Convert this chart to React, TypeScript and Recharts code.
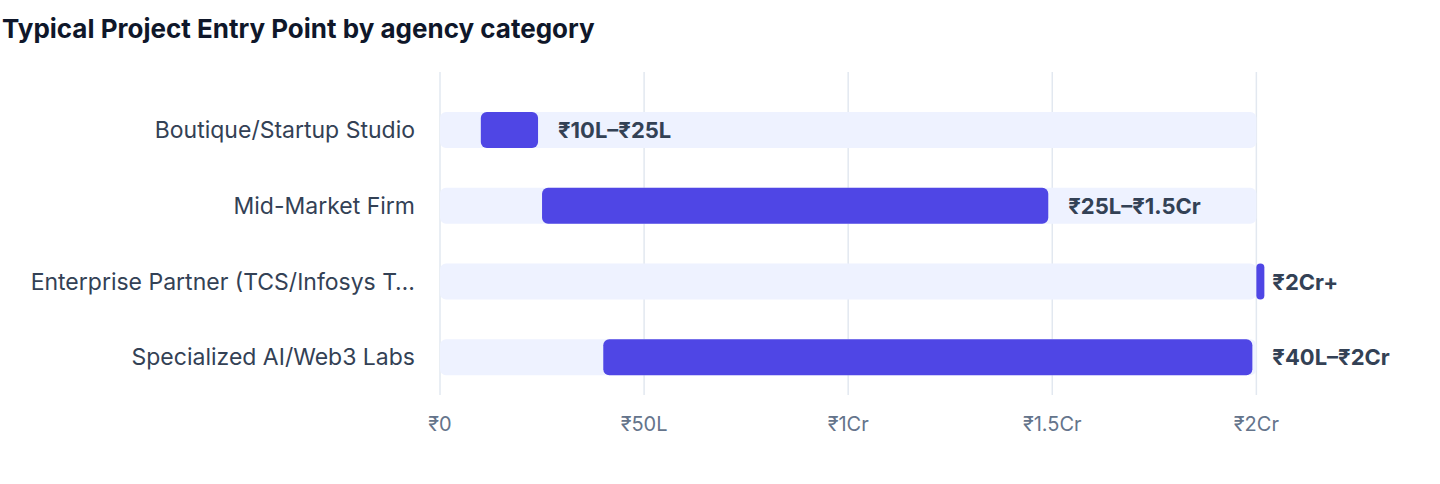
import React from 'react';
import { BarChart, Bar, XAxis, YAxis, CartesianGrid, LabelList, Rectangle } from 'recharts';

// values in lakh (₹1Cr = 100L)
const categories = [
  'Boutique/Startup Studio',
  'Mid-Market Firm',
  'Enterprise Partner (TCS/Infosys Tier)',
  'Specialized AI/Web3 Labs'
];
const lowValues = [10, 25, 200, 40];
const highValues = [25, 150, 200, 200];
const rangeLabels = ['₹10L–₹25L', '₹25L–₹1.5Cr', '₹2Cr+', '₹40L–₹2Cr'];
const trackMax = 200;
const xTicks = [0, 50, 100, 150, 200];
const xTickLabels = ['₹0', '₹50L', '₹1Cr', '₹1.5Cr', '₹2Cr'];

const data = categories.map((name, i) => ({
  name,
  track: [0, trackMax],
  range: [lowValues[i], highValues[i]],
  label: rangeLabels[i]
}));

const FONT = 'Inter, "Noto Sans", sans-serif';

const RangeShape = (props: any) => {
  const { x, y, width, height, fill } = props;
  const w = Math.max(width - 4, 8);
  return <Rectangle x={x} y={y} width={w} height={height} fill={fill} radius={Math.min(6, w / 2)} />;
};

const RangeLabel = (props: any) => {
  const { x, y, width, height, value } = props;
  return (
    <text
      x={x + width + 16}
      y={y + height / 2}
      dominantBaseline="central"
      fill="#334155"
      fontSize={22}
      fontWeight={700}
      fontFamily={FONT}
    >
      {value}
    </text>
  );
};

const truncate = (v: string) => (v.length > 33 ? v.slice(0, 33) + '…' : v);

export default function App() {
  return (
    <div style={{ position: 'absolute', left: 0, top: 0, width: 1440, height: 484, fontFamily: FONT, background: '#fff' }}>
      <div
        style={{
          position: 'absolute',
          left: 2,
          top: 14,
          fontSize: 26,
          lineHeight: '30px',
          fontWeight: 700,
          color: '#0F172A'
        }}
      >
        Typical Project Entry Point by agency category
      </div>
      <BarChart
        width={1440}
        height={484}
        data={data}
        layout="vertical"
        margin={{ top: 72, right: 102, left: 0, bottom: 49 }}
        barGap={-36}
        barSize={36}
      >
        <CartesianGrid horizontal={false} syncWithTicks stroke="#E2E8F0" strokeWidth={1.5} />
        <XAxis
          type="number"
          domain={[0, 220]}
          ticks={xTicks}
          tickFormatter={(v: number) => xTickLabels[xTicks.indexOf(v)]}
          axisLine={false}
          tickLine={false}
          tickSize={0}
          tickMargin={22}
          height={40}
          tick={{ fill: '#64748B', fontSize: 20 }}
        />
        <YAxis
          type="category"
          dataKey="name"
          width={440}
          axisLine={false}
          tickLine={false}
          tickSize={0}
          tickMargin={25}
          padding={{ top: 20, bottom: 0 }}
          tickFormatter={truncate}
          tick={{ fill: '#334155', fontSize: 23 }}
        />
        <Bar dataKey="track" fill="#EEF2FF" radius={6} isAnimationActive={false} />
        <Bar dataKey="range" fill="#4F46E5" shape={RangeShape} isAnimationActive={false}>
          <LabelList dataKey="label" content={RangeLabel} />
        </Bar>
      </BarChart>
    </div>
  );
}
